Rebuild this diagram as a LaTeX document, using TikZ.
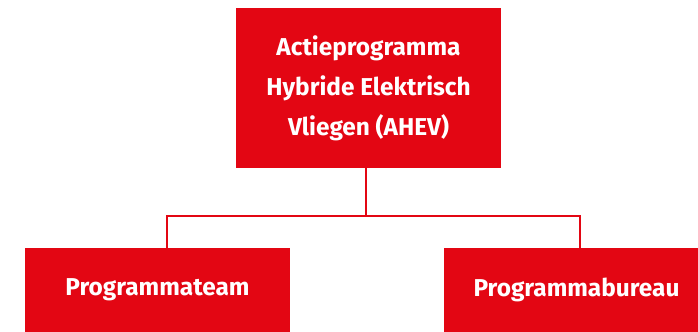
\documentclass[tikz,border=0pt]{standalone}
\usepackage{fontspec}
\setmainfont{Fira Sans}
\usetikzlibrary{positioning}
\definecolor{rvored}{HTML}{E30613}

\begin{document}
\begin{tikzpicture}[x=0.5pt, y=-0.5pt, align=center]
    \tikzset{
        box/.style      =   { rectangle
                            , fill=rvored
                            , text=white
                            , font=\fontsize{12.2}{20}\selectfont\bfseries
                            , minimum width=132.5pt
                            , inner sep=0pt
        }
        , link/.style   =   { draw=rvored
                            , line width=1.1pt
        }
    }
    \useasboundingbox (0,0) rectangle (698,332);

    \node(top)[box, minimum height=80pt]   at (368.5,88)  {Actieprogramma\\Hybride Elektrisch\\Vliegen (AHEV)};
    \node(team)[box, minimum height=42pt]  at (157.5,290) {Programmateam};
    \node(bureau)[box, minimum height=42pt] at (576.5,290) {Programmabureau};

    \coordinate(split) at (366,216);
    \coordinate(t) at ([xshift=4.75pt]team.north);
    \coordinate(b) at ([xshift=1.75pt]bureau.north);

    \draw[link] (top.south -| split) -- (split);
    \draw[link] (t) |- (split) -| (b);
\end{tikzpicture}
\end{document}
